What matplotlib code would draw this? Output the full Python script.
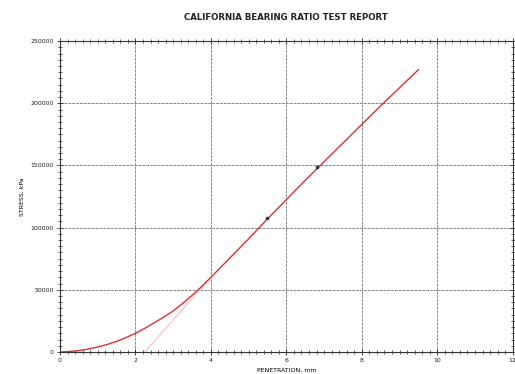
import matplotlib
matplotlib.use("Agg")
import matplotlib.pyplot as plt
from matplotlib.ticker import MultipleLocator

# penetration (mm) vs stress (kPa)
pen = [0, 0.25, 0.5, 0.75, 1, 1.25, 1.5, 1.75, 2, 2.25, 2.5, 2.75, 3, 3.25, 3.5, 3.75, 4,
       4.5, 5, 5.5, 6, 6.5, 7, 7.5, 8, 8.5, 9, 9.5]
stress = [0, 300, 1100, 2300, 4000, 6000, 8500, 11500, 15000, 19000, 23500, 28000, 33000,
          39000, 45500, 52500, 60000, 75500, 91000, 107000, 122500, 138000, 153000, 168000,
          183000, 198000, 212500, 227000]

# corrected (tangent) line
tan_x = [2.25, 4.0]
tan_y = [0, 60000]

# marked points
pt_x = [5.5, 6.8]
pt_y = [108000, 149000]

fig = plt.figure(figsize=(5.15, 3.74), dpi=100)
ax = fig.add_axes([0.1165, 0.059, 0.879, 0.831])

ax.plot(tan_x, tan_y, color='#f4c0c0', lw=0.8, zorder=2)
ax.plot(pen, stress, color='#e03030', lw=1.0, zorder=3)
ax.plot(pt_x, pt_y, 's', color='#333333', ms=2, zorder=4)

ax.set_xlim(0, 12)
ax.set_ylim(0, 250000)
ax.xaxis.set_major_locator(MultipleLocator(2))
ax.xaxis.set_minor_locator(MultipleLocator(0.2))
ax.yaxis.set_major_locator(MultipleLocator(50000))
ax.yaxis.set_minor_locator(MultipleLocator(5000))

ax.grid(True, which='major', color='#8a8a8a', lw=0.7, ls=(0, (3, 1)))
ax.tick_params(which='both', direction='inout', top=True, right=True,
               labelsize=4.5, colors='#222222', pad=2)
ax.tick_params(which='major', length=5, width=0.6)
ax.tick_params(which='minor', length=3, width=0.5)
for s in ax.spines.values():
    s.set_linewidth(0.8)
    s.set_color('#333333')

ax.set_xlabel('PENETRATION, mm', fontsize=4.5, labelpad=3)
ax.set_ylabel('STRESS, kPa', fontsize=4.5, labelpad=4)
fig.text(0.555, 0.953, 'CALIFORNIA BEARING RATIO TEST REPORT',
         ha='center', va='center', fontsize=6.2, fontweight='bold', color='#222222')

fig.savefig('out.png', dpi=100)
